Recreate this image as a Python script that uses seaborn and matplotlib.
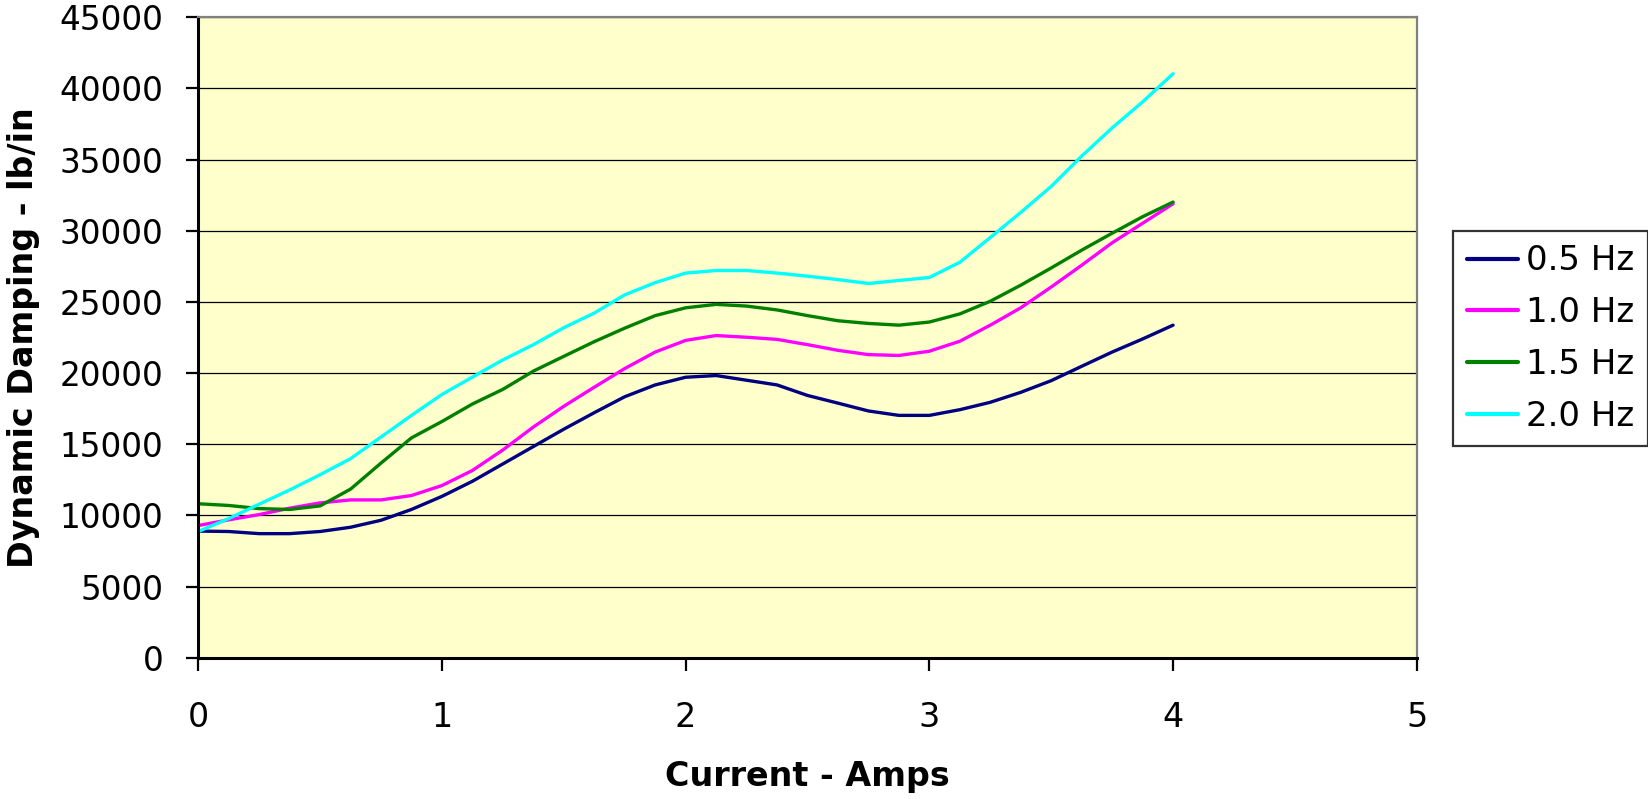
import matplotlib
matplotlib.use("Agg")
import matplotlib.pyplot as plt
import numpy as np
import pandas as pd
import seaborn as sns

# Current (A), sampled every 0.125 A from 0 to 4 A
current = [0.0, 0.125, 0.25, 0.375, 0.5, 0.625, 0.75, 0.875,
           1.0, 1.125, 1.25, 1.375, 1.5, 1.625, 1.75, 1.875,
           2.0, 2.125, 2.25, 2.375, 2.5, 2.625, 2.75, 2.875,
           3.0, 3.125, 3.25, 3.375, 3.5, 3.625, 3.75, 3.875, 4.0]

# Dynamic damping (lb/in) for each excitation frequency
damping_05hz = [8900, 8870, 8720, 8720, 8870, 9170, 9660, 10420,
                11340, 12400, 13620, 14840, 16060, 17220, 18340, 19170,
                19710, 19830, 19500, 19170, 18430, 17890, 17340, 17030,
                17030, 17430, 17950, 18650, 19470, 20480, 21480, 22400, 23370]
damping_10hz = [9290, 9690, 10060, 10510, 10880, 11090, 11090, 11400,
                12100, 13160, 14600, 16210, 17670, 19010, 20320, 21480,
                22300, 22640, 22520, 22370, 22000, 21600, 21300, 21240,
                21540, 22240, 23370, 24590, 26050, 27580, 29160, 30530, 31900]
damping_15hz = [10820, 10700, 10480, 10420, 10670, 11850, 13680, 15450,
                16600, 17830, 18860, 20140, 21180, 22210, 23160, 24040,
                24590, 24830, 24710, 24440, 24040, 23680, 23490, 23370,
                23590, 24160, 25050, 26180, 27390, 28640, 29830, 30990, 32020]
damping_20hz = [8870, 9780, 10790, 11790, 12860, 13990, 15510, 17030,
                18500, 19720, 20930, 22000, 23190, 24220, 25500, 26360,
                27030, 27210, 27210, 27030, 26810, 26570, 26300, 26510,
                26720, 27790, 29530, 31290, 33120, 35250, 37230, 39060, 41040]

series_labels = ["0.5 Hz", "1.0 Hz", "1.5 Hz", "2.0 Hz"]
series_values = [damping_05hz, damping_10hz, damping_15hz, damping_20hz]
series_colors = ["#000080", "#FF00FF", "#008000", "#00FFFF"]

x_ticks = [0, 1, 2, 3, 4, 5]
y_ticks = list(range(0, 45001, 5000))

df = pd.concat(
    [pd.DataFrame({"Current": current, "Damping": vals, "Frequency": lab})
     for lab, vals in zip(series_labels, series_values)],
    ignore_index=True,
)

sns.set_style("white")
plt.rcParams["font.family"] = ["DejaVu Sans"]
plt.rcParams["font.size"] = 24
plt.rcParams["text.color"] = "black"
plt.rcParams["axes.labelcolor"] = "black"
plt.rcParams["xtick.color"] = "black"
plt.rcParams["ytick.color"] = "black"

fig = plt.figure(figsize=(16.48, 7.99), dpi=100)
ax = fig.add_axes([0.1203, 0.1768, 0.8597 - 0.1203, 0.9783 - 0.1768])
ax.set_facecolor("#FFFFCC")

sns.lineplot(
    data=df, x="Current", y="Damping", hue="Frequency",
    hue_order=series_labels,
    palette=dict(zip(series_labels, series_colors)),
    linewidth=2.4, ax=ax, sort=False, estimator=None,
)

ax.set_xlim(0, 5)
ax.set_ylim(0, 45000)
ax.set_xticks(x_ticks)
ax.set_yticks(y_ticks)
ax.set_xticklabels([str(t) for t in x_ticks])
ax.set_yticklabels([str(t) for t in y_ticks])

ax.yaxis.grid(True, color="black", linewidth=0.9)
ax.xaxis.grid(False)
ax.set_axisbelow(True)

for side in ("left", "bottom"):
    ax.spines[side].set_color("black")
    ax.spines[side].set_linewidth(2.2)
for side in ("top", "right"):
    ax.spines[side].set_color("#808080")
    ax.spines[side].set_linewidth(1.6)
    ax.spines[side].set_visible(True)

ax.tick_params(axis="x", direction="out", length=9, width=1.6,
               color="black", labelcolor="black", pad=22, labelsize=24)
ax.tick_params(axis="y", direction="out", length=9, width=1.6,
               color="black", labelcolor="black", pad=16, labelsize=23.5)
ax.xaxis.set_ticks_position("bottom")
ax.yaxis.set_ticks_position("left")

ax.set_xlabel("Current - Amps", fontsize=24, fontweight="bold", labelpad=19,
              color="black")
ax.set_ylabel("Dynamic Damping - lb/in", fontsize=24, fontweight="bold",
              labelpad=14, color="black")

handles, labels = ax.get_legend_handles_labels()
leg = ax.legend(
    handles, labels, loc="center left",
    bbox_to_anchor=(0.8817, 0.5763), bbox_transform=fig.transFigure,
    frameon=True, fancybox=False, shadow=False, fontsize=24.5,
    handlelength=1.5, handletextpad=0.25, labelspacing=0.55,
    borderpad=0.4, borderaxespad=0.0,
)
leg.get_frame().set_edgecolor("black")
leg.get_frame().set_linewidth(1.6)
leg.get_frame().set_facecolor("white")
for text in leg.get_texts():
    text.set_color("black")
for line in leg.get_lines():
    line.set_linewidth(3.0)

fig.savefig("out.png", dpi=100, facecolor="white")
